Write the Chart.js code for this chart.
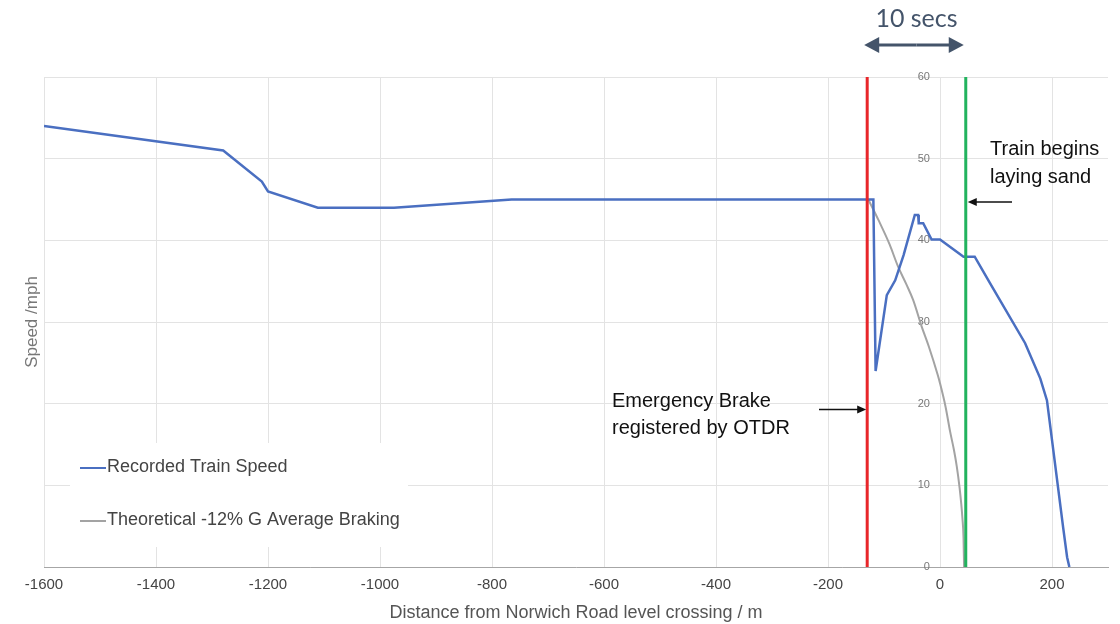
<!DOCTYPE html>
<html lang="en">
  <head>
    <meta charset="UTF-8" />
    <title>Train Speed vs Distance</title>
    <style>
      body {
        margin: 0;
        background: white;
      }
      .wrap {
        width: 1120px;
        height: 624px;
      }
    </style>
    <script src="https://cdn.jsdelivr.net/npm/chart.js"></script>
  </head>
  <body>
    <div class="wrap">
      <canvas id="speedChart"></canvas>
    </div>

    <script>
      // recorded OTDR speed (m from crossing, mph)
      const recordedDistance = [-1600, -1280, -1211, -1200, -1111, -975, -765, -119, -115, -95, -80, -65, -45, -39, -38, -30, -15, 0, 42, 62, 89, 152, 179, 191, 220, 227, 231];
      const recordedSpeed = [54.0, 51.0, 47.2, 46.0, 44.0, 44.0, 45.0, 45.0, 24.0, 33.3, 35.1, 38.2, 43.1, 43.1, 42.1, 42.1, 40.1, 40.1, 38.0, 38.0, 34.8, 27.4, 23.1, 20.4, 4.8, 1.2, 0];

      // theoretical -12% G braking curve
      const theoryDistance = [-128, -110, -90, -75, -60, -48, -33, -20, -4, 0, 10, 18, 25, 30, 35, 38, 40, 42, 43];
      const theorySpeed = [45, 42.5, 39.5, 36.8, 34.6, 32.7, 29.5, 27.0, 23.5, 22.5, 19.6, 16.6, 14.3, 12.3, 9.7, 7.7, 6.0, 3.6, 0];

      // emergency brake registered, sand begins
      const eventDistance = [-130, 46];
      const eventColors = ["#e8262a", "#22b35e"];

      const seriesLabels = ["Recorded Train Speed", "Theoretical -12% G Average Braking"];
      const xTicks = [-1600, -1400, -1200, -1000, -800, -600, -400, -200, 0, 200];
      const yTicks = [0, 10, 20, 30, 40, 50, 60];

      const toPoints = (xs, ys) => xs.map((v, i) => ({ x: v, y: ys[i] }));

      Chart.defaults.font.family = "'Liberation Sans', Arial, sans-serif";

      function arrow(ctx, x1, y, x2, len, half) {
        // line from x1 to x2 with head at x2
        const dir = x2 > x1 ? 1 : -1;
        ctx.beginPath();
        ctx.moveTo(x1, y);
        ctx.lineTo(x2 - dir * len * 0.8, y);
        ctx.stroke();
        ctx.beginPath();
        ctx.moveTo(x2, y);
        ctx.lineTo(x2 - dir * len, y - half);
        ctx.lineTo(x2 - dir * len, y + half);
        ctx.closePath();
        ctx.fill();
      }

      const notes = {
        id: "notes",
        afterDraw(chart) {
          const { ctx, scales } = chart;
          const x = scales.x;
          const y = scales.y;
          const redX = x.getPixelForValue(eventDistance[0]);
          const greenX = x.getPixelForValue(eventDistance[1]);
          ctx.save();

          // 10 secs span
          ctx.fillStyle = "#44546a";
          ctx.strokeStyle = "#44546a";
          ctx.lineWidth = 3;
          ctx.font = "25px Lato, 'Open Sans', sans-serif";
          ctx.textAlign = "center";
          ctx.textBaseline = "alphabetic";
          ctx.fillText("10 secs", (redX + greenX) / 2, 27);
          const mid = (redX + greenX) / 2;
          arrow(ctx, mid, 45, redX - 3, 15, 8);
          arrow(ctx, mid, 45, greenX - 2, 15, 8);

          // callouts
          ctx.fillStyle = "#111";
          ctx.strokeStyle = "#111";
          ctx.lineWidth = 1.5;
          ctx.font = "20px 'Liberation Sans', Arial, sans-serif";
          ctx.textAlign = "left";
          ctx.fillText("Train begins", 990, 155);
          ctx.fillText("laying sand", 990, 183);
          arrow(ctx, 1012, y.getPixelForValue(44.7), greenX + 2, 9, 4);

          ctx.fillText("Emergency Brake", 612, 407);
          ctx.fillText("registered by OTDR", 612, 434);
          arrow(ctx, 819, y.getPixelForValue(19.3), redX - 1, 9, 4);

          // legend box inside plot
          ctx.fillStyle = "white";
          ctx.fillRect(70, 443, 338, 104);
          const rows = [468, 521];
          chart.data.datasets.slice(0, 2).forEach((ds, i) => {
            ctx.strokeStyle = ds.borderColor;
            ctx.lineWidth = 2;
            ctx.beginPath();
            ctx.moveTo(80, rows[i]);
            ctx.lineTo(106, rows[i]);
            ctx.stroke();
            ctx.fillStyle = "#444";
            ctx.font = "18px 'Liberation Sans', Arial, sans-serif";
            ctx.textBaseline = "middle";
            ctx.fillText(ds.label, 107, rows[i] - 1);
          });
          ctx.restore();
        },
      };

      const ctx = document.getElementById("speedChart").getContext("2d");
      new Chart(ctx, {
        type: "scatter",
        data: {
          datasets: [
            {
              label: seriesLabels[0],
              data: toPoints(recordedDistance, recordedSpeed),
              showLine: true,
              borderColor: "#4a6fc1",
              borderWidth: 2.5,
              pointRadius: 0,
              order: 2,
            },
            {
              label: seriesLabels[1],
              data: toPoints(theoryDistance, theorySpeed),
              showLine: true,
              cubicInterpolationMode: "monotone",
              borderColor: "#a3a3a3",
              borderWidth: 2,
              pointRadius: 0,
              order: 3,
            },
            {
              label: "brake",
              data: [{ x: eventDistance[0], y: 0 }, { x: eventDistance[0], y: 60 }],
              showLine: true,
              borderColor: eventColors[0],
              borderWidth: 3,
              pointRadius: 0,
              order: 1,
            },
            {
              label: "sand",
              data: [{ x: eventDistance[1], y: 0 }, { x: eventDistance[1], y: 60 }],
              showLine: true,
              borderColor: eventColors[1],
              borderWidth: 3,
              pointRadius: 0,
              order: 1,
            },
          ],
        },
        options: {
          responsive: true,
          maintainAspectRatio: false,
          animation: false,
          layout: { padding: { top: 77, right: 12, left: 0, bottom: 0 } },
          plugins: {
            legend: { display: false },
            tooltip: { enabled: false },
          },
          scales: {
            x: {
              type: "linear",
              min: -1600,
              max: 300,
              afterBuildTicks: (s) => {
                s.ticks = xTicks.map((v) => ({ value: v }));
              },
              afterFit: (s) => {
                s.height = 57;
              },
              grid: { color: "#e3e3e3", drawTicks: false },
              border: { color: "#a6a6a6" },
              ticks: {
                color: "#444",
                font: { size: 15 },
                padding: 9,
                callback: (v) => String(v),
              },
              title: {
                display: true,
                text: "Distance from Norwich Road level crossing / m",
                color: "#555",
                font: { size: 18 },
                padding: { top: 0, bottom: 0 },
              },
            },
            y: {
              type: "linear",
              // labels sit just left of the 0 m gridline
              position: { x: -18 },
              min: 0,
              max: 60,
              afterBuildTicks: (s) => {
                s.ticks = yTicks.map((v) => ({ value: v }));
              },
              grid: { color: "#e3e3e3", drawTicks: false },
              border: { display: false },
              ticks: { color: "#777", font: { size: 11 } },
            },
            yTitle: {
              type: "linear",
              position: "left",
              min: 0,
              max: 60,
              afterFit: (s) => {
                s.width = 44;
              },
              grid: { display: false },
              border: { display: false },
              ticks: { display: false },
              title: {
                display: true,
                text: "Speed /mph",
                color: "#777",
                font: { size: 17 },
                padding: { top: 22, bottom: 0 },
              },
            },
          },
        },
        plugins: [notes],
      });
    </script>
  </body>
</html>
